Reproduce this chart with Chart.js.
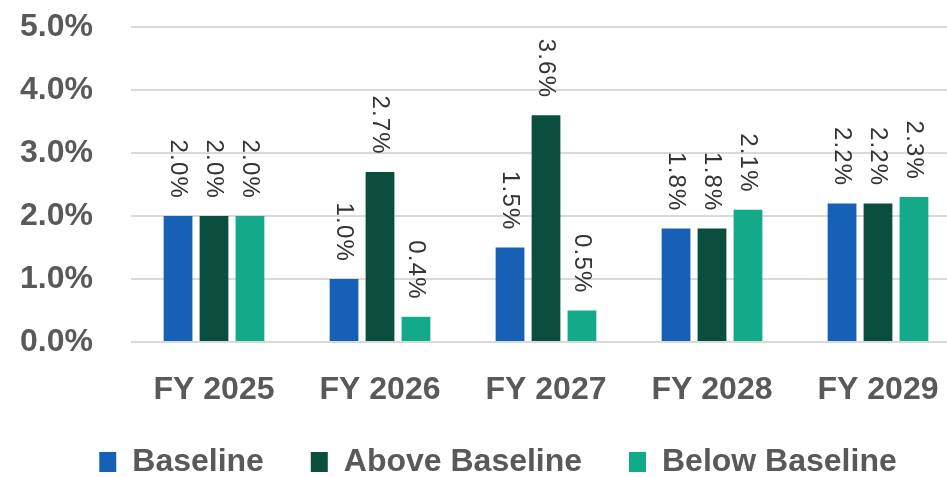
<!DOCTYPE html>
<html>
<head>
<meta charset="utf-8">
<script src="https://cdn.jsdelivr.net/npm/chart.js@4/dist/chart.umd.min.js"></script>
<style>
  html, body { margin: 0; padding: 0; background: #fff; overflow: hidden; }
  #wrap { position: relative; width: 996px; height: 477px; }
</style>
</head>
<body>
<div id="wrap"><canvas id="chart"></canvas></div>
<script>
/* ── Data ─────────────────────────────────────────────── */
const years    = ['FY 2025', 'FY 2026', 'FY 2027', 'FY 2028', 'FY 2029'];
const baseline = [2.0, 1.0, 1.5, 1.8, 2.2];
const above    = [2.0, 2.7, 3.6, 1.8, 2.2];
const below    = [2.0, 0.4, 0.5, 2.1, 2.3];
const yTicks   = [0, 1, 2, 3, 4, 5];

const FONT = "'Liberation Sans', Arial, sans-serif";
const GREY = '#595959';

/* ── Rotated value labels above each bar ─────────────── */
const barLabels = {
  id: 'barLabels',
  afterDatasetsDraw(chart) {
    const ctx = chart.ctx;
    ctx.save();
    ctx.font = '24px ' + FONT;
    ctx.letterSpacing = '1.2px';
    ctx.fillStyle = '#333333';
    ctx.textAlign = 'right';
    ctx.textBaseline = 'middle';
    chart.data.datasets.forEach((ds, i) => {
      chart.getDatasetMeta(i).data.forEach((bar, j) => {
        ctx.save();
        ctx.translate(bar.x, bar.y - 17);
        ctx.rotate(Math.PI / 2);
        ctx.fillText(ds.data[j].toFixed(1) + '%', 0, 0);
        ctx.restore();
      });
    });
    ctx.restore();
  }
};

const barOpts = { categoryPercentage: 0.65, barPercentage: 0.8 };

new Chart(document.getElementById('chart'), {
  type: 'bar',
  data: {
    labels: years,
    datasets: [
      { label: 'Baseline',         data: baseline, backgroundColor: '#1660B6', ...barOpts },
      { label: 'Above Baseline',   data: above,    backgroundColor: '#0A4F3D', ...barOpts },
      { label: 'Below Baseline',   data: below,    backgroundColor: '#12AA88', ...barOpts }
    ]
  },
  options: {
    responsive: true,
    maintainAspectRatio: false,
    animation: false,
    layout: { padding: { top: 27, left: 0, right: 0, bottom: -11 } },
    plugins: {
      legend: {
        position: 'bottom',
        labels: {
          color: GREY,
          font: { family: FONT, size: 32, weight: 'bold' },
          boxWidth: 17, boxHeight: 20, padding: 38,
          // a trailing space widens the gap between legend entries
          generateLabels: chart => Chart.defaults.plugins.legend.labels.generateLabels(chart)
            .map((it, i, all) => ({ ...it, text: i < all.length - 1 ? it.text + ' ' : it.text }))
        }
      },
      tooltip: { enabled: false }
    },
    scales: {
      x: {
        grid: { display: false, drawTicks: false },
        border: { display: false },
        ticks: { color: GREY, font: { family: FONT, size: 32, weight: 'bold', lineHeight: 1.1 }, padding: 31 },
        afterFit: s => { s.height = 66; }
      },
      y: {
        min: 0, max: 5,
        afterBuildTicks: s => { s.ticks = yTicks.map(v => ({ value: v })); },
        grid: { color: '#d9d9d9', lineWidth: 2, drawTicks: false },
        border: { display: false },
        ticks: {
          color: GREY, padding: 38, autoSkip: false,
          font: { family: FONT, size: 32, weight: 'bold' },
          callback: v => v.toFixed(1) + '%'
        },
        afterFit: s => { s.width = 131; s.paddingTop = 0; s.paddingBottom = 0; }
      },
      // empty right-hand axis: only reserves room so the plot ends where the reference does
      yRight: {
        position: 'right',
        grid: { display: false },
        border: { display: false },
        ticks: { display: false },
        afterFit: s => { s.width = 35; }
      }
    }
  },
  plugins: [barLabels]
});
</script>
</body>
</html>
